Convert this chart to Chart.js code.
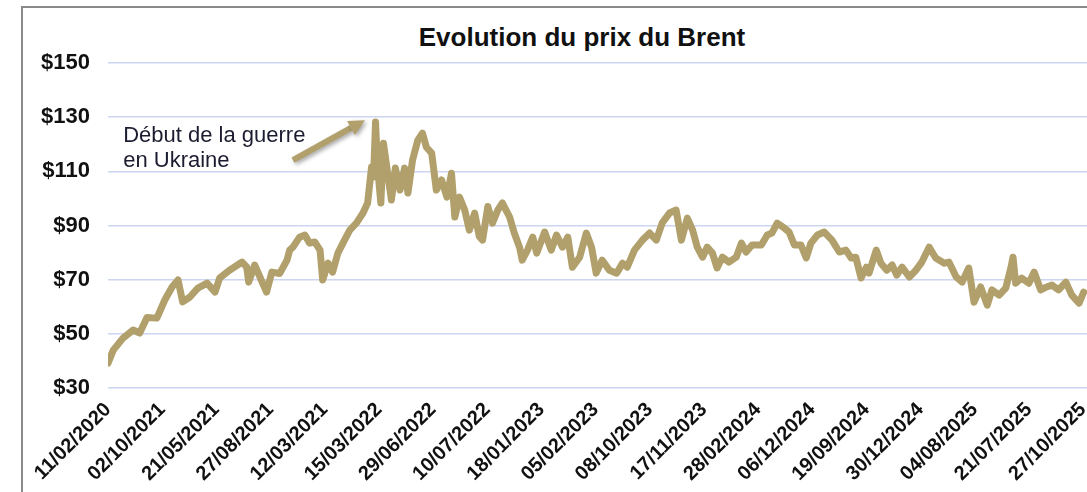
<!DOCTYPE html>
<html>
<head>
<meta charset="utf-8">
<script src="https://cdn.jsdelivr.net/npm/chart.js@4.4.1/dist/chart.umd.min.js"></script>
<style>
  html, body { margin: 0; padding: 0; background: #fff; overflow: hidden; }
  body { width: 1087px; height: 492px; position: relative; }
  #frame { position: absolute; left: 21px; top: 6px; width: 1100px; height: 520px;
           border-left: 2px solid #8a8a8a; border-top: 2px solid #8a8a8a; }
  #title { position: absolute; left: 332px; top: 22px; width: 500px; text-align: center;
           font: bold 26px "Liberation Sans", Arial, sans-serif; line-height: 30px; color: #111; }
  #wrap { position: absolute; left: 23px; top: 9px; width: 1064px; height: 483px; }
</style>
</head>
<body>
<div id="frame"></div>
<div id="title">Evolution du prix du Brent</div>
<div id="wrap"><canvas id="brentChart"></canvas></div>
<script>
// trading session index of each reading (x) and Brent price in $ (y)
const sessions = [0,8,23,38,48,59,74,86,97,106,
  113,124,136,150,162,169,184,203,210,213,
  222,230,240,248,260,271,275,280,290,298,
  305,313,321,325,333,340,348,358,366,376,
  386,393,399,402,405,408,413,417,422,429,
  435,442,449,454,461,469,476,482,490,497,
  505,513,520,525,532,540,547,555,562,567,
  575,582,590,597,608,615,623,627,635,643,
  649,661,671,679,688,696,703,714,724,732,
  739,748,759,770,779,786,797,809,820,830,
  839,850,860,868,877,885,892,900,907,915,
  922,930,940,951,959,966,975,989,998,1005,
  1013,1024,1031,1039,1049,1057,1064,1074,1084,1096,
  1107,1117,1125,1132,1140,1148,1152,1163,1170,1179,
  1187,1194,1202,1213,1223,1232,1243,1253,1266,1273,
  1284,1293,1303,1311,1321,1331,1338,1349,1359,1367,
  1370,1374,1383,1394,1402,1412,1421,1429,1439,1450,
  1459,1470,1477];

const brentPrice = [39.2,44,48.5,51.4,50.3,56,55.8,62.5,67.3,69.9,
  61.8,63.6,66.9,68.7,65.4,70.6,73.5,76.5,74.6,69.1,
  75.4,71,65.4,72.8,72.3,77.2,80.9,82,85.7,86.5,
  83.5,83.9,80.9,69.9,76.1,72.8,79.8,84.6,88.3,90.9,
  94.6,98.3,111.6,107.9,128.2,111.6,98.3,120.4,111.6,99.4,
  111.2,103.1,111.2,102,114.1,121.5,124.1,118.9,116.7,103.1,
  106.8,100.5,109.3,93.1,100.5,95.7,88.3,94.6,86,84.6,
  97,90.9,95.7,98.3,93.1,87.2,82,77.2,80.9,85.7,
  79.8,87.6,80.9,86.5,82,85.7,74.6,78.3,87.2,82,
  72.4,77.2,73.5,72.4,76.1,74.6,80.9,84.6,87.2,84.6,
  91,94.6,95.7,84.6,92.7,88.3,82,78.3,82,79.8,
  74.3,78.3,76.5,78.3,83.5,80.2,82.8,82.8,86.5,87.2,
  90.9,89,87.6,82.8,82.8,78,83.5,86.5,87.6,84.6,
  80.2,80.9,78,78.3,70.6,74.6,72.4,80.9,76.1,73.5,
  75.4,71.7,74.6,71,73.5,76.5,82,78,76.1,76.5,
  71,69.1,74.3,61.7,67.3,60.6,66.2,64.3,66.9,74.6,
  78.3,68.7,70.6,68.7,72.8,66.2,67.3,68,66.2,69.1,
  64.3,61.3,65.4];

// x-axis labels as printed on the original, and the session where each sits
const tickLabels = ['11/02/2020','02/10/2021','21/05/2021','27/08/2021','12/03/2021',
  '15/03/2022','29/06/2022','10/07/2022','18/01/2023','05/02/2023','08/10/2023',
  '17/11/2023','28/02/2024','06/12/2024','19/09/2024','30/12/2024','04/08/2025',
  '21/07/2025','27/10/2025'];
const tickSessions = [0,82,164,246,328,410,492,574,656,738,820,902,984,1066,1148,1230,1312,1394,1476];

const yTicks = [30,50,70,90,110,130,150];

// annotation (in data units)
const warNote = {
  lines: ['Début de la guerre', 'en Ukraine'],
  textAt: [23, 120.8],
  lineGap: 25,
  arrowFrom: [280, 114.1],
  arrowTo: [389, 128.9]
};

const gold = '#b1a06b';

const notePlugin = {
  id: 'warNote',
  afterDatasetsDraw(chart) {
    const ctx = chart.ctx, xs = chart.scales.x, ys = chart.scales.y;
    const x0 = xs.getPixelForValue(warNote.arrowFrom[0]), y0 = ys.getPixelForValue(warNote.arrowFrom[1]);
    const x1 = xs.getPixelForValue(warNote.arrowTo[0]), y1 = ys.getPixelForValue(warNote.arrowTo[1]);
    const ang = Math.atan2(y1 - y0, x1 - x0);
    const head = 16, hw = 8;
    const bx = x1 - head * Math.cos(ang), by = y1 - head * Math.sin(ang);
    ctx.save();
    ctx.shadowColor = 'rgba(0,0,0,0.35)';
    ctx.shadowBlur = 4;
    ctx.shadowOffsetX = 2;
    ctx.shadowOffsetY = 2;
    ctx.strokeStyle = gold;
    ctx.fillStyle = gold;
    ctx.lineWidth = 6;
    ctx.beginPath();
    ctx.moveTo(x0, y0);
    ctx.lineTo(bx, by);
    ctx.stroke();
    ctx.beginPath();
    ctx.moveTo(x1, y1);
    ctx.lineTo(bx + hw * Math.sin(ang), by - hw * Math.cos(ang));
    ctx.lineTo(bx - hw * Math.sin(ang), by + hw * Math.cos(ang));
    ctx.closePath();
    ctx.fill();
    ctx.restore();

    ctx.save();
    ctx.fillStyle = '#1c1c30';
    ctx.font = '22px "Liberation Sans", Arial, sans-serif';
    ctx.textBaseline = 'alphabetic';
    ctx.textAlign = 'left';
    const tx = xs.getPixelForValue(warNote.textAt[0]), ty = ys.getPixelForValue(warNote.textAt[1]);
    warNote.lines.forEach((l, i) => ctx.fillText(l, tx, ty + i * warNote.lineGap));
    ctx.restore();
  }
};

new Chart(document.getElementById('brentChart'), {
  type: 'line',
  data: {
    datasets: [{
      data: sessions.map((s, i) => ({ x: s, y: brentPrice[i] })),
      borderColor: gold,
      borderWidth: 7,
      borderJoinStyle: 'round',
      borderCapStyle: 'round',
      pointRadius: 0,
      tension: 0,
      fill: false
    }]
  },
  options: {
    responsive: true,
    maintainAspectRatio: false,
    animation: false,
    layout: { padding: { top: 54, left: 0, right: 0, bottom: 0 } },
    plugins: { legend: { display: false }, tooltip: { enabled: false } },
    scales: {
      x: {
        type: 'linear',
        min: 0,
        max: 1482,
        grid: { display: false },
        border: { display: false },
        afterBuildTicks: scale => { scale.ticks = tickSessions.map(v => ({ value: v })); },
        afterFit: scale => { scale.height = 104; scale.paddingLeft = 0; scale.paddingRight = 0; },
        ticks: {
          autoSkip: false,
          minRotation: 45,
          maxRotation: 45,
          padding: 2,
          color: '#111',
          font: { family: '"Liberation Sans", Arial, sans-serif', size: 20, weight: 'bold' },
          callback: v => tickLabels[tickSessions.indexOf(v)]
        }
      },
      y: {
        min: 30,
        max: 150,
        afterBuildTicks: scale => { scale.ticks = yTicks.map(v => ({ value: v })); },
        afterFit: scale => { scale.width = 85; },
        grid: { color: '#cdd6f1', lineWidth: 1.5, drawTicks: false },
        border: { display: false },
        ticks: {
          padding: 18,
          color: '#111',
          font: { family: '"Liberation Sans", Arial, sans-serif', size: 22, weight: 'bold' },
          callback: v => '$' + v
        }
      }
    }
  },
  plugins: [notePlugin]
});
</script>
</body>
</html>
